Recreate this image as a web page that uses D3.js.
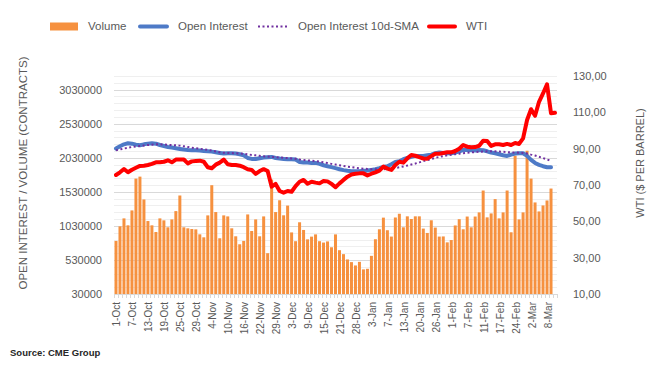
<!DOCTYPE html>
<html>
<head>
<meta charset="utf-8">
<script src="https://cdn.jsdelivr.net/npm/d3@7"></script>
<style>
  body { margin: 0; background: #fff; }
  svg { display: block; font-family: "Liberation Sans", Arial, sans-serif; }
</style>
</head>
<body>
<div id="chart"></div>
<script>
// trading days, 1-Oct to 10-Mar
const dates = [
  "1-Oct","4-Oct","5-Oct","6-Oct","7-Oct","8-Oct","11-Oct","12-Oct","13-Oct","14-Oct","15-Oct","18-Oct","19-Oct","20-Oct","21-Oct","22-Oct","25-Oct","26-Oct","27-Oct","28-Oct","29-Oct",
  "1-Nov","2-Nov","3-Nov","4-Nov","5-Nov","8-Nov","9-Nov","10-Nov","11-Nov","12-Nov","15-Nov","16-Nov","17-Nov","18-Nov","19-Nov","22-Nov","23-Nov","24-Nov","26-Nov","29-Nov","30-Nov",
  "1-Dec","2-Dec","3-Dec","6-Dec","7-Dec","8-Dec","9-Dec","10-Dec","13-Dec","14-Dec","15-Dec","16-Dec","17-Dec","20-Dec","21-Dec","22-Dec","23-Dec","27-Dec","28-Dec","29-Dec","30-Dec","31-Dec",
  "3-Jan","4-Jan","5-Jan","6-Jan","7-Jan","10-Jan","11-Jan","12-Jan","13-Jan","14-Jan","18-Jan","19-Jan","20-Jan","21-Jan","24-Jan","25-Jan","26-Jan","27-Jan","28-Jan","31-Jan",
  "1-Feb","2-Feb","3-Feb","4-Feb","7-Feb","8-Feb","9-Feb","10-Feb","11-Feb","14-Feb","15-Feb","16-Feb","17-Feb","18-Feb","22-Feb","23-Feb","24-Feb","25-Feb","28-Feb",
  "1-Mar","2-Mar","3-Mar","4-Mar","7-Mar","8-Mar","9-Mar","10-Mar"
];

// only every 4th date gets a label
const tickLabels = ["1-Oct","7-Oct","13-Oct","19-Oct","25-Oct","29-Oct","4-Nov","10-Nov","16-Nov","22-Nov","29-Nov","3-Dec",
  "9-Dec","15-Dec","21-Dec","28-Dec","3-Jan","7-Jan","13-Jan","20-Jan","26-Jan","1-Feb","7-Feb","11-Feb","17-Feb","24-Feb","2-Mar","8-Mar"];

// contracts
const volume = [
  809000,1023000,1140000,1038000,1257000,1724000,1753000,1418000,1101000,1038000,940000,1140000,1111000,1009000,1125000,1247000,1476000,1009000,994000,984000,979000,
  906000,862000,1184000,1627000,1233000,848000,1184000,1169000,994000,877000,760000,809000,1198000,955000,1125000,877000,1169000,629000,1710000,1233000,1406000,
  1185000,1328000,934000,805000,1083000,970000,832000,872000,905000,805000,785000,802000,716000,905000,673000,615000,537000,498000,449000,502000,391000,400000,
  590000,834000,980000,1151000,966000,873000,1153000,1208000,1009000,1170000,1131000,1170000,1170000,990000,926000,1112000,1005000,873000,875000,788000,
  822000,1036000,1128000,980000,1167000,1009000,1167000,1228000,1549000,1155000,1213000,1423000,1140000,1228000,1549000,936000,2060000,1125000,1228000,
  2133000,1724000,1374000,1242000,1330000,1403000,1578000
];

const openInterest = [
  2165000,2198000,2227000,2242000,2237000,2223000,2213000,2227000,2237000,2242000,2237000,2217000,2203000,2188000,2179000,2169000,2159000,2150000,2144000,2140000,2140000,
  2135000,2130000,2125000,2120000,2110000,2100000,2091000,2096000,2096000,2091000,2081000,2066000,2027000,2013000,2013000,2023000,2032000,2037000,2042000,2027000,2018000,
  2013000,2008000,2008000,2003000,1969000,1960000,1960000,1954000,1954000,1940000,1920000,1906000,1892000,1877000,1862000,1848000,1838000,1833000,1833000,1833000,1838000,1843000,
  1852000,1862000,1877000,1896000,1906000,1935000,1969000,1979000,2008000,2027000,2042000,2057000,2057000,2057000,2066000,2076000,2096000,2106000,2101000,2096000,
  2096000,2106000,2125000,2144000,2144000,2140000,2135000,2144000,2140000,2125000,2106000,2096000,2081000,2066000,2057000,2076000,2091000,2096000,2096000,
  2057000,1998000,1954000,1925000,1906000,1891000,1891000
];

const oiSma = [
  2140000,2152000,2165000,2177000,2188000,2196000,2203000,2210000,2217000,2222000,2227000,2227000,2224000,2220000,2217000,2212000,2208000,2198000,2188000,2178000,2169000,
  2162000,2154000,2145000,2135000,2122000,2110000,2103000,2100000,2098000,2096000,2093000,2088000,2080000,2072000,2065000,2058000,2052000,2047000,2042000,2038000,2034000,
  2030000,2025000,2020000,2015000,2005000,1998000,1992000,1986000,1980000,1972000,1962000,1952000,1940000,1930000,1920000,1910000,1900000,1892000,1884000,1876000,1870000,1865000,
  1862000,1860000,1860000,1862000,1866000,1872000,1880000,1890000,1902000,1915000,1930000,1945000,1962000,1980000,1996000,2012000,2028000,2042000,2055000,2066000,
  2075000,2083000,2090000,2097000,2103000,2108000,2113000,2117000,2121000,2124000,2125000,2124000,2121000,2117000,2112000,2108000,2108000,2104000,2100000,
  2092000,2076000,2062000,2044000,2025000,2005000,1985000
];

// $ per barrel
const wti = [
  75.5,77.0,78.8,77.0,78.4,79.5,80.5,80.6,81.0,81.6,82.5,82.5,82.8,83.6,82.5,84.0,84.1,84.0,81.9,83.0,83.2,
  83.4,82.8,79.8,79.2,81.2,82.3,84.0,81.4,81.0,81.0,80.6,79.8,78.7,78.3,76.1,77.7,78.7,77.7,69.1,70.6,66.7,
  65.8,66.7,66.3,69.4,71.8,72.8,70.7,71.8,71.3,70.9,72.2,72.0,70.6,68.8,70.9,72.8,74.6,75.8,76.2,76.4,76.4,75.3,
  76.2,77.0,77.9,80.1,79.0,78.3,81.0,82.8,82.3,84.7,86.5,86.1,85.3,84.6,84.5,85.9,87.2,87.2,87.6,88.0,
  88.0,88.7,90.0,92.0,91.1,90.8,90.9,91.6,94.4,94.2,91.5,92.4,92.4,92.0,92.6,92.0,93.1,92.6,95.7,
  105.8,111.7,108.1,115.8,120.4,125.4,109.5,109.8
];

const leftTicks = [30000, 530000, 1030000, 1530000, 2030000, 2530000, 3030000];
const rightTicks = [10, 30, 50, 70, 90, 110, 130];

const width = 665, height = 371;
const plot = {left: 114, right: 557, top: 76, bottom: 294};
const textColor = "#595959";

const svg = d3.select("#chart").append("svg")
    .attr("width", width)
    .attr("height", height);

const x = d3.scaleBand()
    .domain(dates)
    .range([plot.left, plot.right])
    .paddingInner(0.25)
    .paddingOuter(0.125);
const cx = d => x(d) + x.bandwidth() / 2;

const yLeft = d3.scaleLinear().domain([30000, 3230000]).range([plot.bottom, plot.top]);
const yRight = d3.scaleLinear().domain([10, 130]).range([plot.bottom, plot.top]);

// gridlines: minor every 100000, major on the ticks
svg.append("g")
  .selectAll("line")
  .data(d3.range(130000, 3230001, 100000).filter(v => !leftTicks.includes(v)))
  .join("line")
    .attr("x1", plot.left).attr("x2", plot.right)
    .attr("y1", d => Math.round(yLeft(d)) + 0.5).attr("y2", d => Math.round(yLeft(d)) + 0.5)
    .attr("stroke", "#efefef");
svg.append("g")
  .selectAll("line")
  .data(leftTicks.slice(1))
  .join("line")
    .attr("x1", plot.left).attr("x2", plot.right)
    .attr("y1", d => Math.round(yLeft(d)) + 0.5).attr("y2", d => Math.round(yLeft(d)) + 0.5)
    .attr("stroke", "#d9d9d9");

// volume bars
svg.append("g")
  .selectAll("rect")
  .data(volume)
  .join("rect")
    .attr("x", (d, i) => x(dates[i]))
    .attr("width", x.bandwidth())
    .attr("y", d => yLeft(d))
    .attr("height", d => yLeft(30000) - yLeft(d))
    .attr("fill", "#f6913f");

// x axis line + a tick at every category boundary
const xAxis = svg.append("g");
xAxis.append("line")
    .attr("x1", plot.left).attr("x2", plot.right)
    .attr("y1", plot.bottom + 0.5).attr("y2", plot.bottom + 0.5)
    .attr("stroke", "#d9d9d9");
xAxis.selectAll("line.tick")
  .data(d3.range(dates.length + 1))
  .join("line")
    .attr("class", "tick")
    .attr("x1", i => Math.round(plot.left + i * x.step()) + 0.5)
    .attr("x2", i => Math.round(plot.left + i * x.step()) + 0.5)
    .attr("y1", plot.bottom).attr("y2", plot.bottom + 4)
    .attr("stroke", "#d9d9d9");
xAxis.selectAll("text")
  .data(tickLabels)
  .join("text")
    .attr("transform", d => `translate(${cx(d) + 1},${plot.bottom + 8}) rotate(-90)`)
    .attr("text-anchor", "end")
    .attr("dy", "0.35em")
    .attr("font-size", 10)
    .attr("fill", textColor)
    .text(d => d);

// y axes, labels only
svg.append("g")
    .attr("transform", `translate(${plot.left},0)`)
    .call(d3.axisLeft(yLeft).tickValues(leftTicks).tickSize(0).tickPadding(12).tickFormat(d3.format("d")))
    .call(g => g.select(".domain").remove())
    .call(g => g.selectAll("text").attr("font-size", 11).attr("fill", textColor).attr("font-family", null));

svg.append("g")
    .attr("transform", `translate(${plot.right},0)`)
    .call(d3.axisRight(yRight).tickValues(rightTicks).tickSize(0).tickPadding(16).tickFormat(d => d.toFixed(2).replace(".", ",")))
    .call(g => g.select(".domain").remove())
    .call(g => g.selectAll("text").attr("font-size", 11).attr("fill", textColor).attr("font-family", null));

// axis titles
svg.append("text")
    .attr("transform", "translate(27,173) rotate(-90)")
    .attr("text-anchor", "middle")
    .attr("font-size", 11.5)
    .attr("fill", textColor)
    .text("OPEN INTEREST / VOLUME (CONTRACTS)");
svg.append("text")
    .attr("transform", "translate(644,163) rotate(-90)")
    .attr("text-anchor", "middle")
    .attr("font-size", 11)
    .attr("fill", textColor)
    .text("WTI ($ PER BARREL)");

// lines
const leftLine = d3.line().x((d, i) => cx(dates[i])).y(d => yLeft(d));
const rightLine = d3.line().x((d, i) => cx(dates[i])).y(d => yRight(d));

svg.append("path")
    .datum(openInterest)
    .attr("fill", "none")
    .attr("stroke", "#4e7ac7")
    .attr("stroke-width", 4)
    .attr("stroke-linecap", "round")
    .attr("stroke-linejoin", "round")
    .attr("d", leftLine);

svg.append("path")
    .datum(oiSma)
    .attr("fill", "none")
    .attr("stroke", "#7030a0")
    .attr("stroke-width", 2)
    .attr("stroke-dasharray", "2,2.5")
    .attr("d", leftLine);

svg.append("path")
    .datum(wti)
    .attr("fill", "none")
    .attr("stroke", "#ff0000")
    .attr("stroke-width", 4)
    .attr("stroke-linecap", "round")
    .attr("stroke-linejoin", "round")
    .attr("d", rightLine);

// legend
const legend = svg.append("g").attr("font-size", 11.5).attr("fill", textColor);
legend.append("rect").attr("x", 50).attr("y", 22.5).attr("width", 28).attr("height", 8).attr("fill", "#f6913f");
legend.append("text").attr("x", 88).attr("y", 26).attr("dy", "0.35em").text("Volume");
legend.append("line").attr("x1", 140).attr("x2", 167).attr("y1", 26.5).attr("y2", 26.5)
    .attr("stroke", "#4e7ac7").attr("stroke-width", 4).attr("stroke-linecap", "round");
legend.append("text").attr("x", 178).attr("y", 26).attr("dy", "0.35em").text("Open Interest");
legend.append("line").attr("x1", 258).attr("x2", 287).attr("y1", 26.5).attr("y2", 26.5)
    .attr("stroke", "#7030a0").attr("stroke-width", 2).attr("stroke-dasharray", "2,2.5");
legend.append("text").attr("x", 298).attr("y", 26).attr("dy", "0.35em").text("Open Interest 10d-SMA");
legend.append("line").attr("x1", 429).attr("x2", 455).attr("y1", 26.5).attr("y2", 26.5)
    .attr("stroke", "#ff0000").attr("stroke-width", 4).attr("stroke-linecap", "round");
legend.append("text").attr("x", 466).attr("y", 26).attr("dy", "0.35em").text("WTI");

// source note
svg.append("text")
    .attr("x", 10).attr("y", 356)
    .attr("font-size", 9.5)
    .attr("font-weight", "bold")
    .attr("fill", "#262626")
    .text("Source: CME Group");
</script>
</body>
</html>
